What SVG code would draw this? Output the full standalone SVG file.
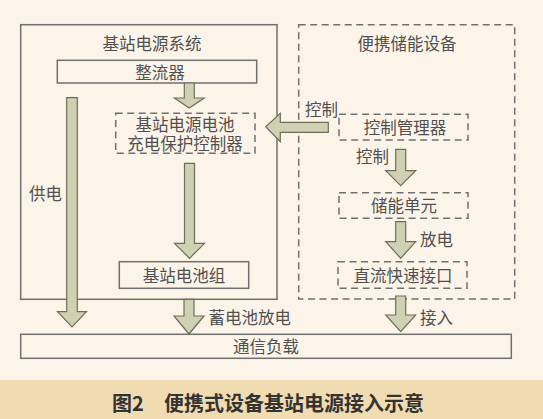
<svg xmlns="http://www.w3.org/2000/svg" width="543" height="419" viewBox="0 0 543 419">
<style>
.box{fill:none;stroke:#707070;stroke-width:1.5}
.dash{fill:none;stroke:#707070;stroke-width:1.5;stroke-dasharray:7 4.5}
.t{font-family:"Noto Sans CJK SC","Noto Sans",sans-serif;font-size:16.5px;fill:#505050;dominant-baseline:central}
.m{text-anchor:middle}
.arr{fill:#D0D0B2;stroke:#6E6E58;stroke-width:1.2;stroke-linejoin:miter}
.cap{font-family:"Noto Sans CJK SC","Noto Sans",sans-serif;font-size:20px;font-weight:bold;fill:#333;dominant-baseline:central}
</style>
<rect x="0" y="0" width="543" height="419" fill="#FCF4E8"/>
<rect x="0" y="380" width="543" height="39" fill="#F1DBB0"/>

<g id="base-system">
<rect class="box" x="20.7" y="24.7" width="256.3" height="274.6"/>
<text class="t m" x="152" y="43">基站电源系统</text>
</g>
<g id="rectifier">
<rect class="box" x="57.3" y="60.3" width="199.4" height="22.7"/>
<text class="t m" x="160" y="71.5">整流器</text>
</g>
<g id="charge-controller">
<rect class="dash" x="115.7" y="113.3" width="139.3" height="40"/>
<text class="t m" x="185" y="124"><tspan x="185" y="124">基站电源电池</tspan><tspan x="185" y="143">充电保护控制器</tspan></text>
</g>
<g id="battery-group">
<rect class="box" x="119.3" y="261.7" width="129.4" height="26.6"/>
<text class="t m" x="184" y="275">基站电池组</text>
</g>
<g id="portable-device">
<rect class="dash" x="298.7" y="24.7" width="216" height="274.3"/>
<text class="t m" x="407" y="43">便携储能设备</text>
</g>
<g id="control-manager">
<rect class="dash" x="339" y="114.3" width="129" height="25.7"/>
<text class="t m" x="405" y="127">控制管理器</text>
</g>
<g id="storage-unit">
<rect class="dash" x="339" y="192.7" width="129" height="25.6"/>
<text class="t m" x="404" y="205">储能单元</text>
</g>
<g id="dc-port">
<rect class="dash" x="338" y="261.7" width="129" height="26.6"/>
<text class="t m" x="403" y="275">直流快速接口</text>
</g>
<g id="load">
<rect class="box" x="20.7" y="334.3" width="490.6" height="24"/>
<text class="t m" x="266" y="346">通信负载</text>
</g>

<g id="connectors">
<polygon class="arr" points="184.3,83 194.3,83 194.3,98 204.3,98 189.3,108 174.3,98 184.3,98"/>
<polygon class="arr" points="66.7,97.7 77.3,97.7 77.3,311.7 86.5,311.7 72,327 57.5,311.7 66.7,311.7"/>
<polygon class="arr" points="184.5,163.3 194.5,163.3 194.5,243.3 204.5,243.3 189.5,258.3 174.5,243.3 184.5,243.3"/>
<polygon class="arr" points="184,299.3 194,299.3 194,316 204,316 189,334 174,316 184,316"/>
<polygon class="arr" points="328.3,122.3 328.3,132.3 280.3,132.3 280.3,141.7 265.7,126.7 280.3,113.3 280.3,122.3"/>
<polygon class="arr" points="395.7,149.3 405.7,149.3 405.7,170.7 415.7,170.7 400.7,185.7 385.7,170.7 395.7,170.7"/>
<polygon class="arr" points="395.7,221.7 405.7,221.7 405.7,241.7 415.7,241.7 400.7,258.3 385.7,241.7 395.7,241.7"/>
<polygon class="arr" points="395.7,296 405.7,296 405.7,315 415.7,315 400.7,331.7 385.7,315 395.7,315"/>
<text class="t" x="29" y="192.7">供电</text>
<text class="t" x="208.5" y="316.7">蓄电池放电</text>
<text class="t" x="305" y="109.3">控制</text>
<text class="t" x="356" y="156">控制</text>
<text class="t" x="420" y="239.3">放电</text>
<text class="t" x="420" y="317.3">接入</text>
</g>

<text class="cap" y="401.7"><tspan x="112">图2</tspan><tspan x="164">便携式设备基站电源接入示意</tspan></text>
</svg>
